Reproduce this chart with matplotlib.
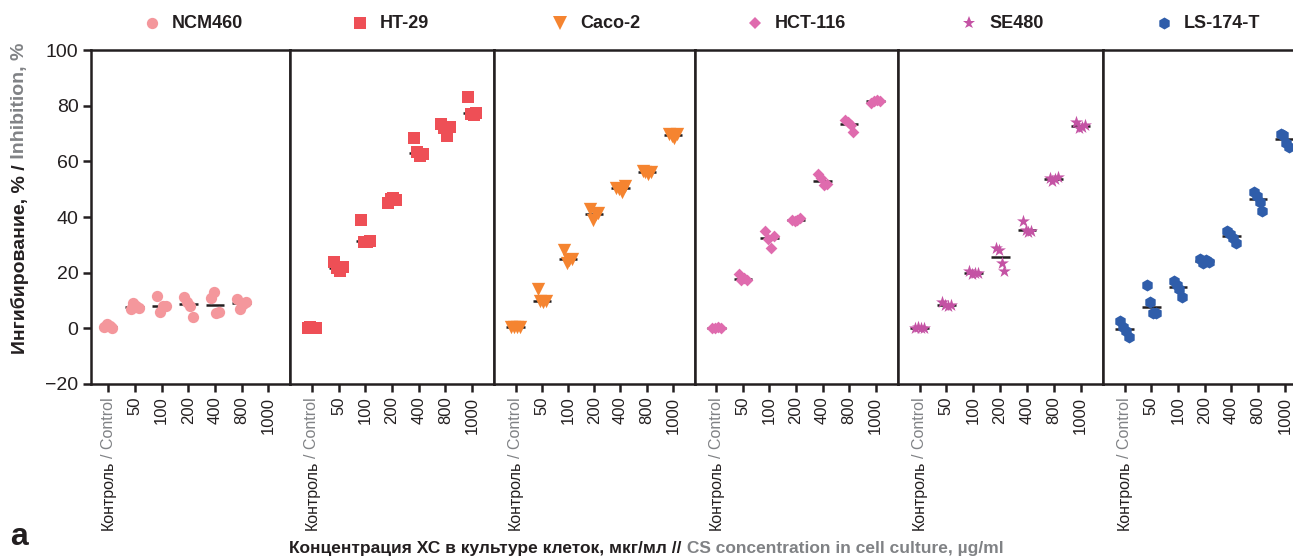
import numpy as np
import matplotlib
matplotlib.use("Agg")
import matplotlib.pyplot as plt
from matplotlib.lines import Line2D

plt.rcParams['font.family'] = ['Liberation Sans', 'DejaVu Sans']

# doses (ug/ml), first one is the control group
doses = ["Контроль / Control", "50", "100", "200", "400", "800", "1000"]
cell_lines = ["NCM460", "HT-29", "Caco-2", "HCT-116", "SE480", "LS-174-T"]

# inhibition, % (replicates per dose)
ncm460 = [[0.3, 1.5, 0.8, 0.2], [7.0, 9.0, 8.0, 7.2], [11.5, 6.0, 8.0, 8.0],
          [11.3, 9.5, 8.0, 4.2], [11.0, 13.0, 5.5, 5.8], [10.5, 7.0, 8.8, 9.5], []]
ht29 = [[0.0, 0.5, 0.0, 0.2], [23.8, 21.5, 20.5, 22.0], [39.0, 31.0, 31.0, 31.5],
        [45.0, 46.5, 47.0, 46.0], [68.5, 63.5, 62.0, 62.5], [73.5, 72.0, 69.0, 72.5],
        [83.0, 77.0, 76.5, 77.5]]
caco2 = [[0.5, 0.5, 0.5, 0.3], [14.0, 10.0, 9.5, 10.0], [28.0, 23.5, 24.5, 25.0],
         [43.0, 39.0, 41.0, 41.5], [50.5, 50.0, 49.0, 51.0], [56.5, 56.0, 55.5, 56.0],
         [70.0, 69.0, 68.5, 70.0]]
hct116 = [[0.0, 0.0, 0.3, 0.0], [19.5, 17.5, 18.0, 17.5], [35.0, 32.0, 29.0, 33.0],
          [39.0, 38.5, 39.0, 39.5], [55.5, 54.0, 51.5, 52.0], [75.0, 74.0, 73.0, 70.5],
          [81.0, 81.5, 82.0, 81.5]]
se480 = [[0.0, 0.3, 0.0, 0.0], [9.5, 8.5, 8.0, 8.5], [20.5, 19.5, 20.0, 20.0],
         [29.0, 28.0, 23.5, 20.5], [38.5, 35.5, 34.5, 35.0], [54.0, 53.0, 53.5, 54.5],
         [74.0, 72.0, 72.5, 73.0]]
ls174t = [[2.5, 0.5, -0.8, -3.0], [15.5, 9.5, 5.5, 5.5], [17.0, 15.5, 14.0, 11.3],
          [25.0, 23.5, 24.5, 24.0], [35.0, 34.0, 32.5, 30.5], [49.0, 47.5, 45.5, 42.0],
          [70.0, 69.5, 66.5, 65.0]]
all_data = [ncm460, ht29, caco2, hct116, se480, ls174t]

colors = ["#F4979C", "#EE4F56", "#F58430", "#DF6BAE", "#C453A4", "#2F5DAA"]
markers = ["o", "s", "v", "D", "*", "h"]
sizes = [66, 84, 92, 36, 95, 75]

dark = "#231F20"
gray = "#808285"
W, H = 1293, 558

fig = plt.figure(figsize=(W / 100, H / 100), dpi=100)

# panel edges in pixels
lefts = [91, 290, 494, 694.5, 897.5, 1102.7]
widths = [199, 204, 200.5, 203, 205.2, 204]
bottom, top = 384, 50

axes = []
for i in range(6):
    ax = fig.add_axes([lefts[i] / W, 1 - bottom / H, widths[i] / W, (bottom - top) / H])
    axes.append(ax)
    data = all_data[i]
    for j, vals in enumerate(data):
        if len(vals) == 0:
            continue
        vals = np.array(vals)
        offs = np.linspace(-0.16, 0.16, len(vals))
        med = np.median(vals)
        ax.plot([j - 0.35, j + 0.35], [med, med], color=dark, lw=1.8, zorder=2,
                solid_capstyle='butt')
        ax.scatter(j + offs, vals, marker=markers[i], s=sizes[i], color=colors[i],
                   linewidths=0, zorder=3)
    if i == 0:
        ax.set_xlim(-0.64, 6.81)
    else:
        ax.set_xlim(-0.82, 6.82)
    ax.set_ylim(-20, 100)
    ax.set_yticks([-20, 0, 20, 40, 60, 80, 100])
    ax.set_xticks(range(len(doses)))
    ax.set_xticklabels([""] + doses[1:], rotation=90, fontsize=12, color=dark)
    ax.tick_params(axis='x', direction='out', length=6, width=1.8, color=dark, pad=3)
    if i == 0:
        ax.set_yticklabels(["\u221220", "0", "20", "40", "60", "80", "100"])
        ax.tick_params(axis='y', direction='out', length=6, width=1.8, color=dark,
                       labelsize=14, labelcolor=dark, pad=3)
    else:
        ax.tick_params(axis='y', left=False, labelleft=False)
    for sp in ax.spines.values():
        sp.set_linewidth(1.8)
        sp.set_color(dark)

    # two-colour control label
    c1 = ax.annotate("/ Control", xy=(0, 0), xycoords=('data', 'axes fraction'),
                     xytext=(0, -9.5), textcoords='offset points', rotation=90,
                     ha='center', va='top', color=gray, fontsize=11.5,
                     annotation_clip=False)
    ax.annotate("Контроль", xy=(0.5, 0), xycoords=c1, xytext=(0, -2),
                textcoords='offset points', rotation=90, ha='center',
                va='top', color=dark, fontsize=11.5)

ax0 = axes[0]

# y label
y1 = ax0.annotate("Ингибирование, % /", xy=(20 / W, 1 - 354 / H), xycoords='figure fraction',
                  rotation=90, ha='center', va='bottom', fontsize=14, fontweight='bold',
                  color=dark, annotation_clip=False)
ax0.annotate(" Inhibition, %", xy=(0.5, 1), xycoords=y1, rotation=90, ha='center',
             va='bottom', fontsize=14, fontweight='bold', color=gray)

# x label
x1 = ax0.annotate("Концентрация ХС в культуре клеток, мкг/мл //", xy=(289 / W, 1 - 548 / H),
                  xycoords='figure fraction', ha='left', va='center', fontsize=12.5,
                  fontweight='bold', color=dark, annotation_clip=False)
ax0.annotate(" CS concentration in cell culture, µg/ml", xy=(1, 0.5), xycoords=x1,
             ha='left', va='center', fontsize=12.5, fontweight='bold', color=gray)

fig.text(10 / W, 1 - 537 / H, "a", fontsize=23, fontweight='bold', color=dark,
         ha='left', va='center')

# legend
leg_x = [152, 360, 560, 755, 969, 1164]
for i, name in enumerate(cell_lines):
    fig.add_artist(Line2D([leg_x[i] / W], [1 - 23 / H], transform=fig.transFigure,
                          marker=markers[i], markersize=np.sqrt(sizes[i]), color=colors[i],
                          markeredgewidth=0, linestyle='none'))
    fig.text((leg_x[i] + 20) / W, 1 - 23 / H, name, fontsize=13, fontweight='bold',
             color=dark, ha='left', va='center')

fig.savefig("out.png", dpi=100)
